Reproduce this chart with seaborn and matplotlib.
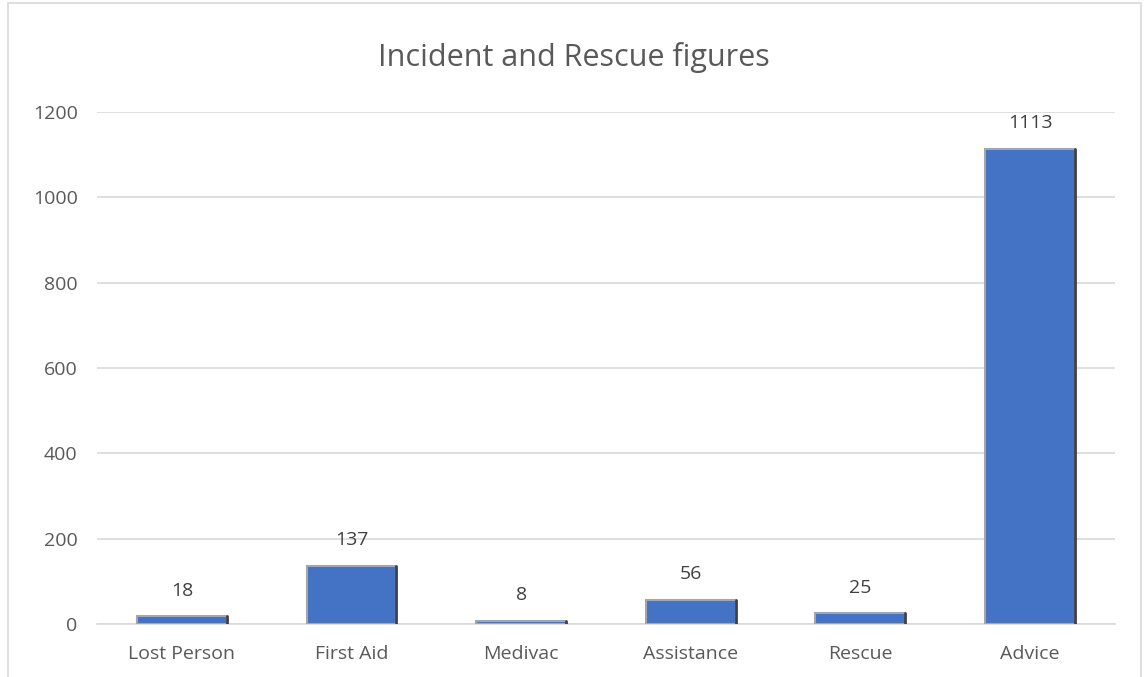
import matplotlib
matplotlib.use("Agg")
import matplotlib.pyplot as plt
import seaborn as sns
import numpy as np
import pandas as pd

categories = ["Lost Person", "First Aid", "Medivac", "Assistance", "Rescue", "Advice"]
counts = [18, 137, 8, 56, 25, 1113]

df = pd.DataFrame({"Category": categories, "Count": counts})

sns.set_style("white")
plt.rcParams['font.family'] = ['Open Sans', 'DejaVu Sans']

fig = plt.figure(figsize=(11.47, 6.77), dpi=100)
ax = fig.add_axes([0.0846, 0.0783, 0.8874, 0.7563])

sns.barplot(data=df, x="Category", y="Count", color="#4472C4", width=0.53,
            edgecolor="#A6A6A6", linewidth=1.5, saturation=1, ax=ax, zorder=3)

# darker right edge to mimic the bevel
for p in ax.patches:
    x = p.get_x() + p.get_width()
    ax.plot([x, x], [0, p.get_height()], color="#404040", lw=2, zorder=4)

for i, v in enumerate(counts):
    ax.annotate(str(v), (i, v), xytext=(0, 12), textcoords="offset points",
                ha="center", va="bottom", fontsize=14, color="#404040")

ax.set_ylim(0, 1200)
ax.set_xlim(-0.5, 5.5)
ax.set_yticks(range(0, 1201, 200))
ax.yaxis.grid(True, color="#D9D9D9", lw=1.2, zorder=0)
ax.set_axisbelow(True)
for s in ["top", "right", "left"]:
    ax.spines[s].set_visible(False)
ax.spines["bottom"].set_color("#D9D9D9")
ax.spines["bottom"].set_linewidth(1.2)

ax.tick_params(axis="y", length=0, labelsize=14, labelcolor="#595959", pad=14)
ax.tick_params(axis="x", which="major", length=0, labelsize=14, labelcolor="#595959", pad=15)
ax.set_xticks(np.arange(-0.5, 6, 1), minor=True)
ax.tick_params(axis="x", which="minor", length=7, color="#D9D9D9", width=1.2)
ax.set_xlabel("")
ax.set_ylabel("")

fig.text(0.5, 0.915, "Incident and Rescue figures", ha="center", va="center",
         fontsize=22, color="#595959")

fig.patches.append(plt.Rectangle((0.007, -0.01), 0.988, 1.006, transform=fig.transFigure,
                                 fill=False, edgecolor="#D9D9D9", lw=1.2))

plt.savefig("out.png", dpi=100)
